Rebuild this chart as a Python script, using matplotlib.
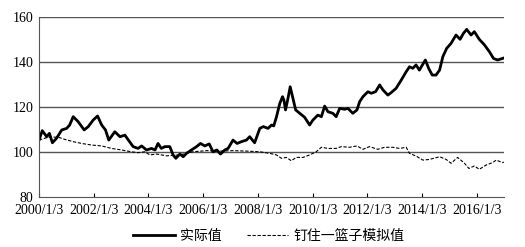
import matplotlib.pyplot as plt
from matplotlib import font_manager

serif_name = 'Liberation Serif'
names = {f.name for f in font_manager.fontManager.ttflist}
if serif_name not in names:
    serif_name = 'DejaVu Serif'
plt.rcParams['font.serif'] = [serif_name]
plt.rcParams['font.family'] = ['serif']

# 实际值 (decimal year, index)
actual_x = [2000.0, 2000.12, 2000.28, 2000.38, 2000.49, 2000.64, 2000.83, 2001.01, 2001.12,
            2001.25, 2001.43, 2001.65, 2001.8, 2001.98, 2002.14, 2002.29, 2002.43, 2002.55,
            2002.77, 2002.96, 2003.14, 2003.25, 2003.44, 2003.62, 2003.75, 2003.93, 2004.11,
            2004.24, 2004.35, 2004.47, 2004.6, 2004.78, 2004.9, 2005.0, 2005.15, 2005.27,
            2005.39, 2005.57, 2005.76, 2005.9, 2006.06, 2006.22, 2006.36, 2006.5, 2006.63,
            2006.79, 2006.91, 2007.09, 2007.24, 2007.4, 2007.58, 2007.7, 2007.88, 2008.07,
            2008.2, 2008.37, 2008.5, 2008.58, 2008.68, 2008.8, 2008.9, 2008.95, 2009.01,
            2009.1, 2009.18, 2009.28, 2009.38, 2009.53, 2009.71, 2009.89, 2010.01, 2010.19,
            2010.32, 2010.44, 2010.56, 2010.74, 2010.86, 2010.99, 2011.17, 2011.29, 2011.47,
            2011.62, 2011.72, 2011.84, 2012.02, 2012.14, 2012.3, 2012.45, 2012.57, 2012.75,
            2012.87, 2013.05, 2013.24, 2013.42, 2013.54, 2013.66, 2013.78, 2013.9, 2014.12,
            2014.24, 2014.37, 2014.51, 2014.64, 2014.76, 2014.9, 2015.06, 2015.24, 2015.39,
            2015.51, 2015.63, 2015.79, 2015.91, 2016.09, 2016.28, 2016.46, 2016.61, 2016.76,
            2016.94, 2016.99]
actual_y = [105.3, 109.5, 106.8, 108.3, 104.1, 106.1, 109.8, 110.5, 112.0,
            115.7, 113.5, 109.8, 111.3, 114.2, 116.0, 112.0, 109.8, 105.3,
            109.0, 106.8, 107.5, 105.6, 102.4, 101.6, 102.7, 100.9, 101.6,
            100.9, 103.8, 101.6, 102.4, 102.4, 98.7, 97.2, 99.1, 97.9,
            99.4, 100.9, 102.4, 103.8, 102.7, 103.6, 100.1, 100.9, 99.1,
            100.9, 101.6, 105.3, 103.8, 104.6, 105.3, 106.8, 104.1, 110.5,
            111.3, 110.5, 112.0, 111.6, 115.7, 121.6, 124.6, 123.1, 118.7,
            123.9, 129.0, 123.9, 118.7, 117.2, 115.4, 112.0, 114.2, 116.4,
            115.7, 120.4, 117.9, 117.2, 115.7, 119.4, 119.0, 119.4, 117.2,
            118.7, 122.4, 124.6, 126.8, 126.1, 126.8, 129.8, 127.6, 125.3,
            126.4, 128.3, 132.0, 135.7, 137.9, 137.2, 138.7, 136.4, 140.9,
            137.2, 134.2, 134.2, 136.4, 142.4, 146.1, 148.3, 152.0, 150.1,
            152.7, 154.5, 152.0, 153.5, 150.1, 147.6, 144.6, 141.6, 140.9,
            141.6, 141.8]

# 钉住一篮子模拟值
basket_x = [2000.0, 2000.34, 2000.7, 2000.95, 2001.25, 2001.56, 2001.92, 2002.29, 2002.65,
            2003.02, 2003.38, 2003.62, 2003.87, 2004.05, 2004.3, 2004.66, 2005.15, 2005.62,
            2006.12, 2006.6, 2007.09, 2007.6, 2008.07, 2008.43, 2008.68, 2008.86, 2009.04,
            2009.22, 2009.4, 2009.65, 2009.89, 2010.13, 2010.32, 2010.56, 2010.86, 2011.05,
            2011.35, 2011.62, 2011.84, 2012.08, 2012.38, 2012.63, 2012.93, 2013.18, 2013.42,
            2013.54, 2013.78, 2014.03, 2014.27, 2014.64, 2014.88, 2015.06, 2015.3, 2015.55,
            2015.71, 2015.91, 2016.09, 2016.34, 2016.58, 2016.71, 2016.94, 2016.99]
basket_y = [105.3, 106.6, 106.6, 105.6, 104.6, 103.8, 103.1, 102.7, 101.6,
            100.9, 100.1, 99.7, 100.1, 98.7, 99.1, 98.3, 98.7, 100.1,
            100.6, 100.4, 100.6, 100.4, 100.1, 99.4, 98.7, 97.2, 97.6,
            96.1, 97.6, 97.6, 98.7, 100.1, 102.1, 101.6, 101.6, 102.4,
            102.1, 102.7, 101.2, 102.4, 101.2, 102.1, 102.1, 101.6, 102.1,
            99.4, 98.2, 96.4, 96.7, 97.9, 96.7, 95.0, 97.6, 95.0,
            92.7, 93.8, 92.3, 94.2, 95.3, 96.4, 95.3, 95.5]

tick_years = list(range(2000, 2017, 2))
tick_labels = [f"{y}/1/3" for y in tick_years]

fig = plt.figure(figsize=(5.25, 2.47), dpi=100)
ax = fig.add_axes([0.0743, 0.2024, 0.886, 0.7287])

ax.plot(actual_x, actual_y, color='black', lw=2.0, label='实际值')
ax.plot(basket_x, basket_y, color='black', lw=0.8, ls=(0, (3, 1.5)), label='钉住一篮子模拟值')

ax.set_xlim(2000.0, 2017.0)
ax.set_ylim(80, 160)
ax.set_yticks([80, 100, 120, 140, 160])
ax.set_xticks(tick_years)
ax.set_xticklabels(tick_labels)
ax.tick_params(axis='x', direction='in', length=3, width=0.8, labelsize=10, pad=5)
ax.tick_params(axis='y', length=0, labelsize=10, pad=4)

for v in [100, 120, 140, 160]:
    ax.axhline(v, color='#555555', lw=1.0, zorder=0)

ax.spines['top'].set_visible(False)
ax.spines['right'].set_visible(False)
ax.spines['left'].set_color('#555555')
ax.spines['bottom'].set_color('#555555')

fig.legend(loc='center', bbox_to_anchor=(0.512, 0.045), ncol=2, frameon=False,
           prop={'family': ['Noto Sans CJK SC'], 'size': 10}, handlelength=3.0,
           columnspacing=1.8, handletextpad=0.35)

plt.savefig("out.png", dpi=100)
